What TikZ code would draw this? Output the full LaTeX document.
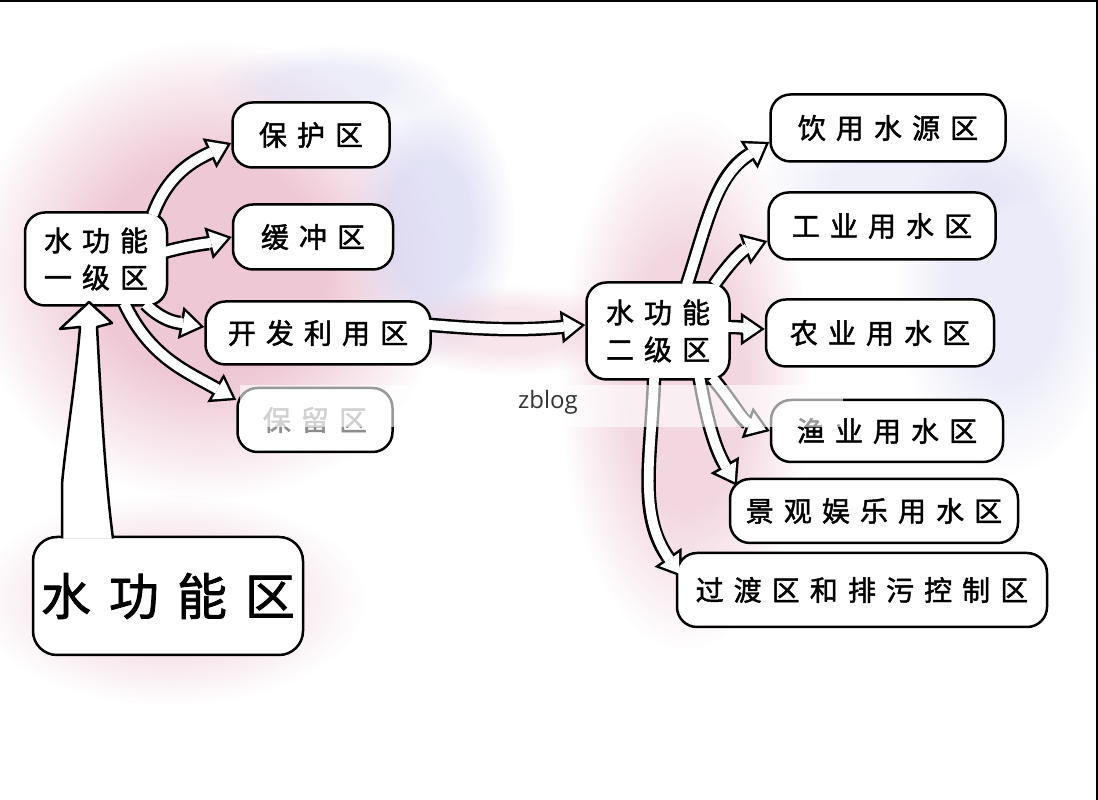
\documentclass[tikz,border=0pt]{standalone}
\usepackage{fontspec}
\usepackage{tikz}
\usetikzlibrary{arrows.meta}
\usetikzlibrary{fadings}

\newfontfamily\cjk[LetterSpace=36, FakeBold=1.6]{Noto Sans CJK SC}
\newfontfamily\markfont{Open Sans}

\definecolor{blush}{RGB}{233,182,200}
\definecolor{lilac}{RGB}{212,212,242}

\pgfdeclarelayer{wash}
\pgfdeclarelayer{under}
\pgfsetlayers{wash,under,main}

\pgfdeclareradialshading{washshade}{\pgfpoint{0bp}{0bp}}{color(0bp)=(white); color(12bp)=(white); color(25bp)=(black)}
\pgfdeclarefading{washfade}{\pgfuseshading{washshade}}

% hollow arrow: black body below the boxes, white core on top
\newcommand{\fatarrow}[3]{%
  \begin{pgfonlayer}{under}
    \path[arrowback] #1 to[#2] #3;
  \end{pgfonlayer}
  \path[arrowfront] #1 to[#2] #3;
}

\begin{document}
\begin{tikzpicture}[x=1pt, y=1pt,
    zone/.style={draw, line width=2.5pt, fill=white, rounded corners=20pt, inner sep=0pt, align=center, font=\cjk\fontsize{28pt}{37pt}\selectfont},
    arrowback/.style={draw=black, line width=14.5pt, shorten <=-4pt, -{Triangle[width=33pt, length=24pt, line width=0pt]}},
    arrowfront/.style={draw=white, line width=9.6pt, shorten <=-4pt, shorten >=4.2pt, -{Triangle[width=23.5pt, length=17.2pt, line width=0pt]}},
    blob/.style={path fading=washfade}]

    \useasboundingbox (0,0) rectangle (1098,800);

    % watercolour washes
    \begin{pgfonlayer}{wash}
        \fill[white] (0,0) rectangle (1098,800);
        \fill[blush, blob, fill opacity=0.75] (210,530) ellipse [x radius=240, y radius=230];
        \fill[lilac, blob, fill opacity=0.65] (430,575) ellipse [x radius=85, y radius=140];
        \fill[lilac, blob, fill opacity=0.4] (330,715) ellipse [x radius=120, y radius=40];
        \fill[blush, blob, fill opacity=0.4] (170,200) ellipse [x radius=195, y radius=105];
        \fill[blush, blob, fill opacity=0.35] (510,470) ellipse [x radius=130, y radius=45];
        \fill[blush, blob, fill opacity=0.55] (685,420) ellipse [x radius=125, y radius=270];
        \fill[lilac, blob, fill opacity=0.45] (1005,515) ellipse [x radius=110, y radius=190];
        \fill[lilac, blob, fill opacity=0.35] (900,620) ellipse [x radius=150, y radius=45];
    \end{pgfonlayer}

    % first level
    \node[zone, minimum width=142, minimum height=93] (first) at (96,541) {水功能\\一级区};
    \node[zone, minimum width=157, minimum height=65] (protect) at (311,665) {保护区};
    \node[zone, minimum width=160, minimum height=65] (buffer) at (313,563) {缓冲区};
    \node[zone, minimum width=225, minimum height=63] (develop) at (318,467) {开发利用区};
    \node[zone, minimum width=155, minimum height=64, text=black!45] (reserve) at (315,380) {保留区};

    % the big box and its tail
    \node[zone, minimum width=270, minimum height=118, rounded corners=24pt, font=\cjk\fontsize{50pt}{60pt}\selectfont] (master) at (168,204) {水功能区};
    \path[draw=black, fill=white, line width=2.5pt, line join=round]
        (62,261.5) -- (62,315) .. controls (64,345) and (76,420) .. (80,473)
        -- (60,471) -- (89,498) -- (112,477) -- (97,473)
        .. controls (100,420) and (104,330) .. (113,261.5);

    % second level
    \node[zone, minimum width=143, minimum height=97] (second) at (658,469) {水功能\\二级区};
    \node[zone, minimum width=235, minimum height=67] (drink) at (888,672) {饮用水源区};
    \node[zone, minimum width=227, minimum height=67] (industry) at (882,574) {工业用水区};
    \node[zone, minimum width=228, minimum height=67] (farm) at (880,467) {农业用水区};
    \node[zone, minimum width=232, minimum height=62] (fish) at (887,369) {渔业用水区};
    \node[zone, minimum width=288, minimum height=64] (scenery) at (874,289) {景观娱乐用水区};
    \node[zone, minimum width=370, minimum height=74] (transit) at (862,210) {过渡区和排污控制区};

    % arrows
    \fatarrow{([xshift=-14]first.north east)}{out=70, in=205}{([yshift=-8]protect.west)}
    \fatarrow{([yshift=8]first.east)}{out=15, in=195}{(buffer.west)}
    \fatarrow{([xshift=-20]first.south east)}{out=-45, in=170}{([yshift=6]develop.west)}
    \fatarrow{([xshift=30]first.south)}{out=-65, in=150}{([yshift=20]reserve.west)}
    \fatarrow{([yshift=8]develop.east)}{out=-5, in=185}{([yshift=6]second.west)}

    \fatarrow{([xshift=30]second.north)}{out=72, in=212}{([yshift=-14]drink.west)}
    \fatarrow{([xshift=-14]second.north east)}{out=55, in=200}{([yshift=-15]industry.west)}
    \fatarrow{([yshift=4]second.east)}{out=0, in=180}{([yshift=4]farm.west)}
    \fatarrow{([xshift=-16]second.south east)}{out=-50, in=160}{(fish.west)}
    \fatarrow{([xshift=42]second.south)}{out=-80, in=120}{([shift={(8,-8)}]scenery.north west)}
    \fatarrow{([xshift=-4]second.south)}{out=-92, in=125}{([shift={(6,13)}]transit.west)}

    % watermark band
    \fill[white, fill opacity=0.6] (240,373) rectangle (843,415);
    \node[font=\markfont\fontsize{24pt}{28pt}\selectfont, text=black!80] (mark) at (548,398) {zblog};

    % frame
    \draw[line width=2.5pt] (0,799) -- (1097,799) -- (1097,0);

\end{tikzpicture}
\end{document}
